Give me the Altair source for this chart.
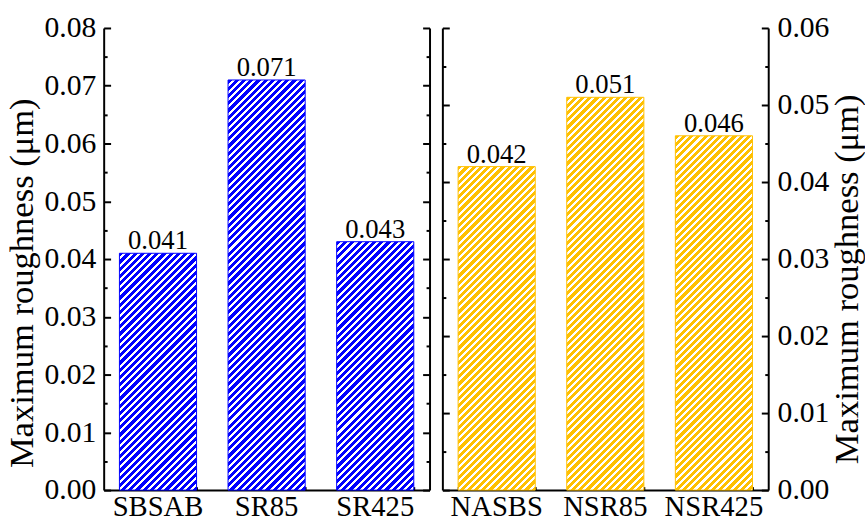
import altair as alt
import pandas as pd

# ---- data ----
left_cats = ["SBSAB", "SR85", "SR425"]
left_vals = [0.041, 0.071, 0.043]
right_cats = ["NASBS", "NSR85", "NSR425"]
right_vals = [0.042, 0.051, 0.046]
left_ticks = [0.0, 0.005, 0.01, 0.015, 0.02, 0.025, 0.03, 0.035, 0.04,
              0.045, 0.05, 0.055, 0.06, 0.065, 0.07, 0.075, 0.08]
right_ticks = [0.0, 0.005, 0.01, 0.015, 0.02, 0.025, 0.03, 0.035, 0.04,
               0.045, 0.05, 0.055, 0.06]
y_title = "Maximum roughness (μm)"

# ---- style ----
W, H = 330, 468
PAD_INNER = 0.29
FONT = "Liberation Serif"
BLUE = "#0000FF"
GOLD = "#FFC000"

MAJOR = "(round(datum.value*1000) % 10 == 0)"
TICK_EXPR = alt.ExprRef(expr=f"{MAJOR} ? -7 : -3.5")
LABEL_EXPR = f"{MAJOR} ? format(datum.value, '.2f') : ''"


def stripe_gradient(color, bw, bh, period=7.3, white_frac=0.42):
    L = bw + bh
    s = L / (bw * bw + bh * bh)
    x2, y2 = bw * s, bh * s
    n = L / period
    stops = []
    k = 0
    while k / n < 1:
        a = k / n
        b = min((k + 1 - white_frac) / n, 1.0)
        c = min((k + 1) / n, 1.0)
        stops.append({"offset": round(a, 5), "color": color})
        stops.append({"offset": round(b, 5), "color": color})
        if b < 1:
            stops.append({"offset": round(b, 5), "color": "#FFFFFF"})
            stops.append({"offset": round(c, 5), "color": "#FFFFFF"})
        k += 1
    return {"gradient": "linear", "x1": 0, "y1": 0, "x2": x2, "y2": y2, "stops": stops}


def panel(cats, vals, color, ymax, yticks, main_orient, other_orient,
          title_baseline, title_padding, title_y, label_padding):
    df = pd.DataFrame({"cat": cats, "val": vals})
    step = W / 3.0
    bw = step * (1 - PAD_INNER)
    grads = [stripe_gradient(color, bw, v / ymax * H) for v in vals]
    fill = {
        "condition": [{"test": f"datum.cat === '{c}'", "value": g}
                      for c, g in zip(cats[:-1], grads[:-1])],
        "value": grads[-1],
    }
    xs = alt.Scale(domain=cats, paddingInner=PAD_INNER, paddingOuter=PAD_INNER / 2)
    ys = alt.Scale(domain=[0, ymax], nice=False, zero=True)

    common = dict(domainColor="black", domainWidth=2, tickColor="black", tickWidth=2,
                  grid=False, labelFont=FONT, labelColor="black")

    main_y = alt.Axis(orient=main_orient, values=yticks, labelExpr=LABEL_EXPR,
                      tickSize=TICK_EXPR, labelPadding=label_padding, labelFontSize=30,
                      labelFlush=False, labelOverlap=False,
                      title=y_title, titleFont=FONT, titleFontSize=35,
                      titleFontWeight="normal", titleColor="black",
                      titlePadding=title_padding, titleAngle=270,
                      titleBaseline=title_baseline, titleY=title_y, **common)
    other_y = alt.Axis(orient=other_orient, values=yticks, labels=False,
                       tickSize=TICK_EXPR, title=None, **common)
    main_x = alt.Axis(orient="bottom", tickSize=alt.ExprRef(expr="-6"), labelPadding=9,
                      labelFontSize=29, labelAngle=0, title=None, **common)
    minor_x = alt.Axis(orient="bottom", tickBand="extent", labels=False, domain=False,
                       tickSize=alt.ExprRef(expr="-3.5"), title=None, tickColor="black",
                       tickWidth=2, grid=False)

    base = alt.Chart(df)
    bars = base.mark_bar(stroke=color, strokeWidth=1).encode(
        x=alt.X("cat:N", scale=xs, sort=cats, axis=main_x),
        y=alt.Y("val:Q", scale=ys, axis=main_y),
        fill=fill,
    )
    text = base.mark_text(baseline="alphabetic", dy=-4, font=FONT, fontSize=27,
                          color="black").encode(
        x=alt.X("cat:N", scale=xs, sort=cats, axis=minor_x),
        y=alt.Y("val:Q", scale=ys, axis=other_y),
        text=alt.Text("val:Q", format=".3f"),
    )
    return (alt.layer(bars, text)
            .resolve_scale(x="shared", y="shared")
            .resolve_axis(x="independent", y="independent")
            .properties(width=W, height=H))


left = panel(left_cats, left_vals, BLUE, 0.08, left_ticks, "left", "right",
             "bottom", 5, 258, 15)
right = panel(right_cats, right_vals, GOLD, 0.06, right_ticks, "right", "left",
              "top", 1, 254, 16)

chart = (alt.hconcat(left, right, spacing=11)
         .properties(padding={"left": 4, "top": 10, "right": 0, "bottom": 0},
                     background="white")
         .configure_view(stroke=None))

chart.save("out.html", embed_options={"renderer": "svg", "actions": False})
